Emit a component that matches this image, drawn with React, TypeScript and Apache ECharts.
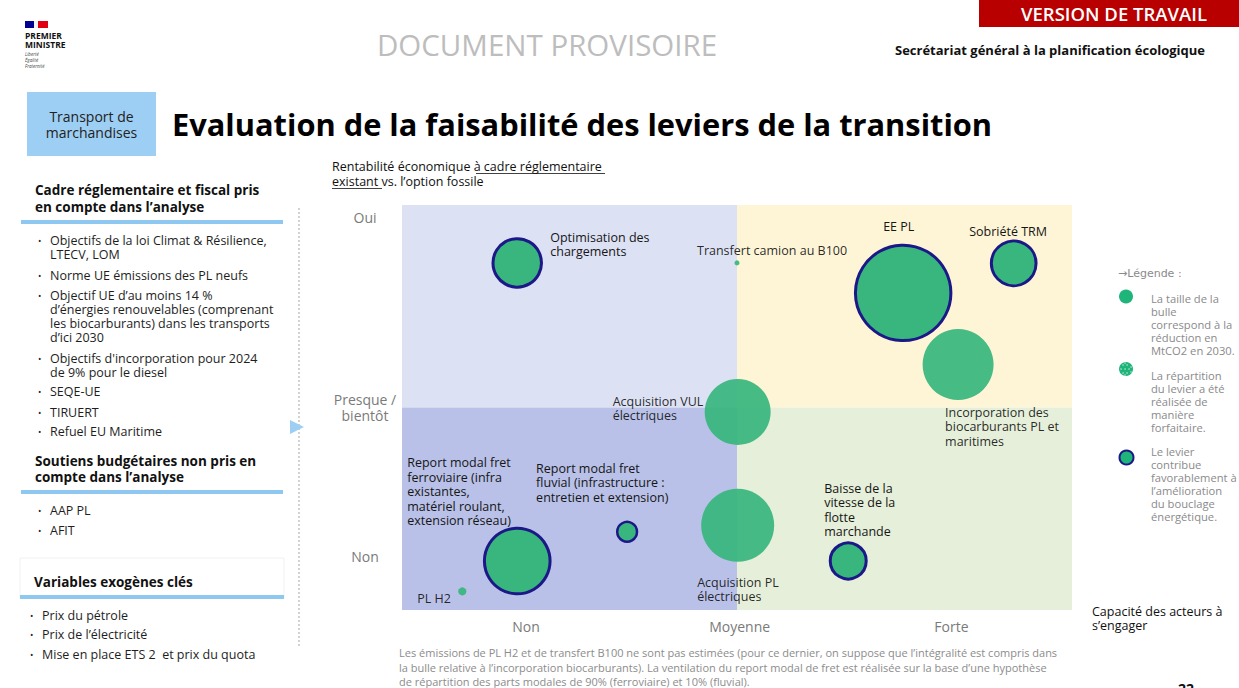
import React, { useEffect, useRef } from "react";
import * as echarts from "echarts";

// ---------- data ----------
const xTickLabels = ["Non", "Moyenne", "Forte"];
const xTickValues = [18.5, 50.4, 82];
const yTickLabels = ["Oui", "Presque /\nbientôt", "Non"];
const yTickValues = [97, 50, 13.3];

const leverNames = [
  "Optimisation des\nchargements",
  "Transfert camion au B100",
  "EE PL",
  "Sobriété TRM",
  "Incorporation des\nbiocarburants PL et\nmaritimes",
  "Acquisition VUL\nélectriques",
  "Acquisition PL\nélectriques",
  "Baisse de la\nvitesse de la\nflotte\nmarchande",
  "Report modal fret\nferroviaire (infra\nexistantes,\nmatériel roulant,\nextension réseau)",
  "Report modal fret\nfluvial (infrastructure :\nentretien et extension)",
  "PL H2",
];
// capacité des acteurs à s'engager (0-100)
const leverCapacity = [17.2, 50, 74.8, 91.3, 83.0, 50.1, 50.1, 66.6, 17.2, 33.6, 9.0];
// rentabilité économique (0-100)
const leverRentability = [85.7, 85.7, 78.3, 85.6, 60.6, 48.9, 20.9, 12.1, 12.1, 19.3, 4.6];
// relative bubble size (réduction MtCO2 2030, estimée)
const leverReduction = [12.0, 0.13, 46.5, 10.2, 25.7, 22.2, 27.2, 6.6, 22.0, 2.0, 0.33];
// contribue au bouclage énergétique
const leverBouclage = [true, false, true, true, false, false, false, true, true, true, false];

// ---------- layout ----------
const labelOffsets: [number, number][] = [
  [33, -33], [-40, -20], [-20, -74], [-44.5, -39.5], [-13, 40.5], [-125, -18],
  [-40.5, 49.5], [-24, -80], [-110, -105.3], [-91, -71], [-45, -0.6],
];
const FONT = "'Open Sans', 'Noto Sans', sans-serif";
const GREEN = "#39b67e";
const NAVY = "#1c1888";

type TOpt = { size?: number; color?: string; weight?: string | number; align?: string; lh?: number; style?: string; family?: string };
const txt = (x: number, yTop: number, text: string, o: TOpt = {}) => {
  const size = o.size ?? 12;
  const align = o.align ?? "left";
  return {
    type: "text",
    x,
    y: yTop,
    silent: true,
    style: {
      text,
      fill: o.color ?? "#1e1e1e",
      fontSize: size,
      fontFamily: o.family ?? FONT,
      fontWeight: o.weight ?? "normal",
      fontStyle: o.style ?? "normal",
      lineHeight: o.lh ?? Math.round(size * 1.2),
      align,
      textAlign: align,
      verticalAlign: "top",
      textVerticalAlign: "top",
    },
  };
};
const rect = (x: number, y: number, w: number, h: number, fill: string, extra: any = {}) => ({
  type: "rect",
  silent: true,
  shape: { x, y, width: w, height: h },
  style: { fill, ...extra },
});
const hline = (x1: number, x2: number, y: number, stroke: string, w = 1) => ({
  type: "line",
  silent: true,
  shape: { x1, y1: y, x2, y2: y },
  style: { stroke, lineWidth: w },
});

function buildGraphics() {
  const g: any[] = [];
  // logo
  g.push(rect(25, 21, 9, 7, "#000091"));
  g.push(rect(34, 21, 4, 7, "#f4f4f4"));
  g.push(rect(38, 21, 10, 7, "#e1000f"));
  g.push(txt(25, 31, "PREMIER\nMINISTRE", { size: 8.5, weight: "bold", lh: 9, color: "#111" }));
  g.push(txt(25, 51, "Liberté\nÉgalité\nFraternité", { size: 4.5, style: "italic", lh: 6, color: "#444" }));
  // header
  g.push(txt(547, 27, "DOCUMENT PROVISOIRE", { size: 29.5, color: "#bdbdbd", align: "center", lh: 34 }));
  g.push(rect(979, 0, 260, 27, "#b80000"));
  g.push(txt(1114, 2, "VERSION DE TRAVAIL", { size: 18.5, color: "#ffffff", weight: 600, align: "center", lh: 22 }));
  g.push(txt(895, 42, "Secrétariat général à la planification écologique", { size: 13, weight: "bold", color: "#111", lh: 16 }));
  // tag + title
  g.push(rect(27, 92, 129, 64, "#9dcff4"));
  g.push(txt(91.5, 108.7, "Transport de\nmarchandises", { size: 14, color: "#222", align: "center", lh: 16 }));
  g.push(txt(172, 105, "Evaluation de la faisabilité des leviers de la transition", { size: 30.8, weight: "bold", color: "#000", lh: 38 }));

  // left panel
  g.push(txt(35, 181.6, "Cadre réglementaire et fiscal pris\nen compte dans l’analyse", { size: 13.5, weight: "bold", color: "#111", lh: 16.7 }));
  g.push(rect(21, 220, 262, 4, "#8ec8f0"));
  const list1: [string, number][] = [
    ["Objectifs de la loi Climat & Résilience,\nLTECV, LOM", 240.7],
    ["Norme UE émissions des PL neufs", 275],
    ["Objectif UE d’au moins 14 %\nd’énergies renouvelables (comprenant\nles biocarburants) dans les transports\nd’ici 2030", 295],
    ["Objectifs d'incorporation pour 2024\nde 9% pour le diesel", 358.3],
    ["SEQE-UE", 391.7],
    ["TIRUERT", 412],
    ["Refuel EU Maritime", 431.7],
  ];
  list1.forEach(([t, c]) => {
    g.push(txt(38, c - 7, "•", { size: 9, lh: 14 }));
    g.push(txt(50, c - 7.1, t, { size: 12.5, lh: 14.2 }));
  });
  g.push(txt(35, 452.7, "Soutiens budgétaires non pris en\ncompte dans l’analyse", { size: 13.5, weight: "bold", color: "#111", lh: 16.3 }));
  g.push(rect(21, 490, 262, 4, "#8ec8f0"));
  const list2: [string, number][] = [["AAP PL", 510.7], ["AFIT", 530.7]];
  list2.forEach(([t, c]) => {
    g.push(txt(38, c - 7, "•", { size: 9, lh: 14 }));
    g.push(txt(50, c - 7.1, t, { size: 12.5, lh: 14.2 }));
  });
  g.push(rect(20, 558, 264, 40, "none", { stroke: "#f1f1f1", lineWidth: 1 }));
  g.push(txt(34, 574, "Variables exogènes clés", { size: 13.5, weight: "bold", color: "#111", lh: 16.6 }));
  g.push(rect(20, 595, 264, 4, "#8ec8f0"));
  const list3: [string, number][] = [
    ["Prix du pétrole", 615],
    ["Prix de l’électricité", 634.3],
    ["Mise en place ETS 2  et prix du quota", 654.3],
  ];
  list3.forEach(([t, c]) => {
    g.push(txt(30, c - 7, "•", { size: 9, lh: 14 }));
    g.push(txt(42, c - 7.1, t, { size: 12.5, lh: 14.2 }));
  });
  g.push({
    type: "line",
    silent: true,
    shape: { x1: 299, y1: 208, x2: 299, y2: 647 },
    style: { stroke: "#b5b5b5", lineWidth: 1.2, lineDash: [2, 2] },
  });
  g.push({
    type: "polygon",
    silent: true,
    shape: { points: [[290, 420], [304, 427], [290, 434]] },
    style: { fill: "#9dcff4" },
  });

  // chart heading
  g.push(txt(332, 158.5, "Rentabilité économique à cadre réglementaire\nexistant vs. l’option fossile", { size: 12.5, color: "#111", lh: 15 }));
  g.push(hline(476, 605, 173.5, "#111", 0.8));
  g.push(hline(332, 382, 188.5, "#111", 0.8));

  // axis title right
  g.push(txt(1092, 604, "Capacité des acteurs à\ns’engager", { size: 12.5, color: "#111", lh: 14.5 }));

  // legend
  const LG = "#8a8a8a";
  g.push(txt(1118, 266.5, "→Légende :", { size: 11, color: LG, lh: 13, family: "'DejaVu Sans', sans-serif" }));
  g.push({ type: "circle", silent: true, shape: { cx: 1126, cy: 296.5, r: 7 }, style: { fill: "#1fb47a" } });
  g.push(txt(1151, 291.8, "La taille de la\nbulle\ncorrespond à la\nréduction en\nMtCO2 en 2030.", { size: 11.2, color: LG, lh: 13.1 }));
  g.push({ type: "circle", silent: true, shape: { cx: 1126, cy: 369, r: 7 }, style: { fill: "#1fb47a" } });
  [[-3, -4], [1, -4], [-5, 0], [-1, 0], [3, 0], [-3, 4], [1, 4], [5, -2], [5, 3], [-1, -6], [-1, 6]].forEach(([dx, dy]) => {
    g.push({ type: "circle", silent: true, shape: { cx: 1126 + dx, cy: 369 + dy, r: 0.7 }, style: { fill: "#d9f3e6" } });
  });
  g.push(txt(1151, 368.5, "La répartition\ndu levier a été\nréalisée de\nmanière\nforfaitaire.", { size: 11.2, color: LG, lh: 13 }));
  g.push({ type: "circle", silent: true, shape: { cx: 1126.5, cy: 457.5, r: 7 }, style: { fill: "#1fb47a", stroke: NAVY, lineWidth: 2 } });
  g.push(txt(1151, 445.2, "Le levier\ncontribue\nfavorablement à\nl’amélioration\ndu bouclage\nénergétique.", { size: 11.2, color: LG, lh: 13 }));

  // footnote
  g.push(
    txt(
      399,
      645.7,
      "Les émissions de PL H2 et de transfert B100 ne sont pas estimées (pour ce dernier, on suppose que l’intégralité est compris dans\nla bulle relative à l’incorporation biocarburants). La ventilation du report modal de fret est réalisée sur la base d’une hypothèse\nde répartition des parts modales de 90% (ferroviaire) et 10% (fluvial).",
      { size: 11, color: "#8c8c8c", lh: 14.5 }
    )
  );
  g.push(txt(1178, 680, "22", { size: 14, weight: "bold", color: "#111", lh: 16 }));
  return g;
}

function buildOption() {
  const data = leverNames.map((name, i) => ({
    name,
    value: [leverCapacity[i], leverRentability[i], leverReduction[i]],
    itemStyle: leverBouclage[i]
      ? { borderColor: NAVY, borderWidth: leverReduction[i] < 5 ? 2.5 : 3, opacity: 1 }
      : { borderWidth: 0 },
    label: { offset: labelOffsets[i] },
  }));
  const quad = (x0: number, y0: number, x1: number, y1: number, color: string) => [
    { xAxis: x0, yAxis: y0, itemStyle: { color, opacity: 1 } },
    { xAxis: x1, yAxis: y1 },
  ];
  return {
    animation: false,
    textStyle: { fontFamily: FONT },
    grid: { left: 402, top: 205, width: 670, height: 405 },
    xAxis: {
      type: "value",
      min: 0,
      max: 100,
      axisLine: { show: false },
      axisTick: { show: false },
      splitLine: { show: false },
      axisLabel: {
        customValues: xTickValues,
        color: "#7a7a7a",
        fontSize: 14,
        fontFamily: FONT,
        margin: 9,
        formatter: (v: number) => {
          let best = 0;
          xTickValues.forEach((t, i) => {
            if (Math.abs(t - v) < Math.abs(xTickValues[best] - v)) best = i;
          });
          return xTickLabels[best];
        },
      },
    },
    yAxis: {
      type: "value",
      min: 0,
      max: 100,
      axisLine: { show: false },
      axisTick: { show: false },
      splitLine: { show: false },
      axisLabel: {
        customValues: yTickValues,
        color: "#7a7a7a",
        fontSize: 14,
        fontFamily: FONT,
        align: "center",
        margin: 37,
        lineHeight: 16,
        formatter: (v: number) => {
          let best = 0;
          yTickValues.forEach((t, i) => {
            if (Math.abs(t - v) < Math.abs(yTickValues[best] - v)) best = i;
          });
          return yTickLabels[best];
        },
      },
    },
    graphic: buildGraphics(),
    series: [
      {
        type: "scatter",
        data,
        symbolSize: (v: number[]) => Math.sqrt(v[2]) * 14,
        itemStyle: { color: GREEN, opacity: 0.93 },
        label: {
          show: true,
          position: "inside",
          align: "left",
          verticalAlign: "top",
          color: "#161616",
          fontSize: 12.5,
          fontFamily: FONT,
          lineHeight: 14.5,
          formatter: (p: any) => p.name,
        },
        emphasis: { disabled: true },
        markArea: {
          silent: true,
          data: [
            quad(0, 50, 50, 100, "#dde1f4"),
            quad(0, 0, 50, 50, "#b9c1e8"),
            quad(50, 50, 100, 100, "#fef5d6"),
            quad(50, 0, 100, 50, "#e5efd9"),
          ],
        },
      },
    ],
  };
}

export default function App() {
  const ref = useRef<HTMLDivElement>(null);
  useEffect(() => {
    if (!ref.current) return;
    const chart = echarts.init(ref.current, undefined, { renderer: "svg" });
    chart.setOption(buildOption() as any);
    return () => chart.dispose();
  }, []);
  return (
    <div
      ref={ref}
      style={{ position: "fixed", left: 0, top: 0, width: 1239, height: 688, background: "#ffffff" }}
    />
  );
}
